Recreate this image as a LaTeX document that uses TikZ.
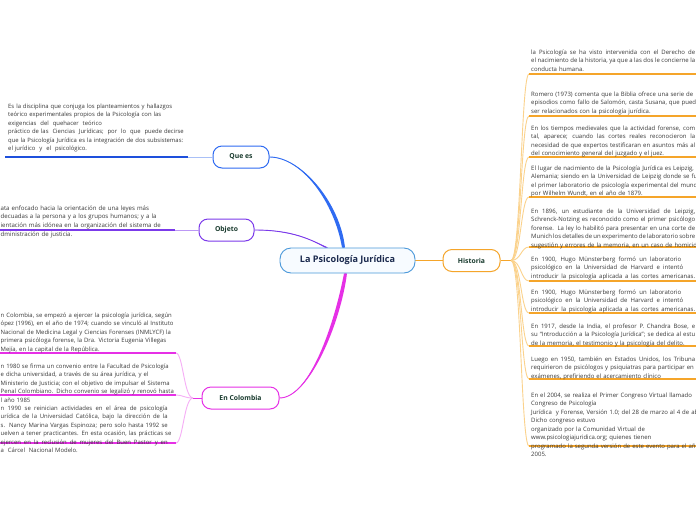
\documentclass[tikz,border=0pt]{standalone}
\usepackage{fontspec}
\setmainfont{Open Sans}
\newcommand\jl[2]{{\spaceskip=0pt\xspaceskip=0pt\makebox[#1][s]{#2}}}
\usetikzlibrary{backgrounds}
\definecolor{cbluedark}{HTML}{1E50DC}
\definecolor{cblue}{HTML}{2F6BF2}
\definecolor{cbluelight}{HTML}{A9C0F7}
\definecolor{cpurple}{HTML}{7B3AEA}
\definecolor{cpurplelight}{HTML}{BC98F5}
\definecolor{cmag}{HTML}{E630E6}
\definecolor{cmaglight}{HTML}{F6AEF6}
\definecolor{corange}{HTML}{F5A52A}
\definecolor{corangelight}{HTML}{FBD28C}
\definecolor{ccenter}{HTML}{4A98DA}
\definecolor{ccenterfill}{HTML}{F7FBFF}
\definecolor{ctext}{HTML}{383838}
\definecolor{cnode}{HTML}{17392C}
\definecolor{cnavy}{HTML}{1B2A4E}
\begin{document}
\begin{tikzpicture}[x=1pt,y=-1pt,
  txt/.style={text=ctext, inner sep=0pt, anchor=base west, align=left, text width=320pt},
  qtxt/.style={txt, font=\fontsize{5.9}{8.5}\selectfont},
  otxt/.style={txt, font=\fontsize{6.1}{8.5}\selectfont},
  ctxt/.style={txt, font=\fontsize{5.95}{8.5}\selectfont},
  rtxt/.style={txt, font=\fontsize{6.0}{8.5}\selectfont},
  branch/.style={draw=#1, line width=1pt, rounded corners=9pt, fill=white, font=\fontsize{6.8}{8}\selectfont\bfseries, text=cnode, minimum height=22pt, inner sep=0pt},
]
\useasboundingbox (0,0) rectangle (696,520);
\clip (0,0) rectangle (696,520);

% central and branch nodes
\node[draw=ccenter, line width=0.9pt, rounded corners=11pt, fill=ccenterfill, minimum width=135pt, minimum height=25pt, inner sep=0pt, font=\fontsize{9.1}{10}\selectfont\bfseries, text=cnavy] (ctr) at (347.5,260.5) {La Psicología Jurídica};
\node[branch=cblue, minimum width=56pt] (qe) at (241,157) {Que es};
\node[branch=cpurple, minimum width=55pt] (ob) at (226.5,230) {Objeto};
\node[branch=cmag, minimum width=77pt] (col) at (240.5,398) {En Colombia};
\node[branch=corange, minimum width=57pt] (hi) at (471.5,260.5) {Historia};

\begin{scope}[on background layer]
\fill[white] (0,0) rectangle (696,520);
% tapered main connectors
\fill[cblue] (qe.east) .. controls +(32,0) and +(-7.5,-45) .. ([xshift=-5.5pt]ctr.north)
  -- ([xshift=-2.5pt]ctr.north) .. controls +(-5,-45) and +(32,0) .. (qe.east) -- cycle;
\draw[cblue, line width=0.9pt] (qe.east) .. controls +(32,0) and +(-6,-45) .. ([xshift=-4pt]ctr.north);
\fill[cpurple] (ob.east) .. controls +(38,0) and +(-16,-9) .. ([xshift=-22.5pt]ctr.north)
  -- ([xshift=-19.5pt]ctr.north) .. controls +(-16,-7) and +(38,0) .. (ob.east) -- cycle;
\draw[cpurple, line width=0.9pt] (ob.east) .. controls +(38,0) and +(-16,-8) .. ([xshift=-21pt]ctr.north);
\fill[cmag] (col.east) .. controls +(30,0) and +(-9.5,50) .. ([xshift=-3.5pt]ctr.south)
  -- ([xshift=-0.5pt]ctr.south) .. controls +(-6.5,50) and +(30,0) .. (col.east) -- cycle;
\draw[cmag, line width=0.9pt] (col.east) .. controls +(30,0) and +(-8,50) .. ([xshift=-2pt]ctr.south);
\draw[corange, line width=1pt] (ctr.east) -- (hi.west);
\end{scope}

% Que es
\coordinate (qu0) at (5,157);
\coordinate (qu1) at (188,157);
\draw[cbluedark, line width=1.4pt] (qu0) -- (qu1);
\draw[cbluelight, line width=1pt] (qu1) -- (qe.west);
\node[qtxt] (tqe) at (8,108) {Es la disciplina que conjuga los planteamientos y hallazgos\\
teórico experimentales propios de la Psicología con las\\
exigencias\ \ del\ \ quehacer\ \ teórico\\
práctico de las\ \ Ciencias\ \ Jurídicas;\ \ por\ \ lo\ \ que\ \ puede decirse\\
que la Psicología Jurídica es la integración de dos subsistemas:\\
el jurídico\ \ y\ \ el\ \ psicológico.};

% Objeto
\coordinate (ou0) at (-2,230);
\coordinate (ou1) at (175,230);
\draw[cpurple, line width=1.2pt] (ou0) -- (ou1);
\draw[cpurplelight, line width=1pt] (ou1) -- (ob.west);
\node[otxt] (tob) at (0.5,210) {ata enfocado hacia la orientación de una leyes más\\
decuadas a la persona y a los grupos humanos; y a la\\
ientación más idónea en la organización del sistema de\\[1pt]
dministración de justicia.};

% En Colombia
\coordinate (ch) at (193,398);
\draw[cmag, line width=1pt] (ch) -- (col.west);
\foreach \n/\y in {1/353,2/395,3/443}{
  \coordinate (cu\n a) at (-2,\y);
  \coordinate (cu\n b) at (176,\y);
  \draw[cmaglight, line width=0.9pt] (cu\n b) .. controls +(7,0) and +(-9,0) .. (ch);
  \draw[cmag, line width=1.1pt] (cu\n a) -- (cu\n b);
}
\node[ctxt] (tc1) at (0.5,317) {n Colombia, se empezó a ejercer la psicología jurídica, según\\
ópez (1996), en el año de 1974; cuando se vinculó al Instituto\\
Nacional de Medicina Legal y Ciencias Forenses (INMLYCF) la\\
primera psicóloga forense, la Dra. Victoria Eugenia Villegas\\
Mejía, en la capital de la República.};
\node[ctxt] (tc2) at (0.5,368) {n 1980 se firma un convenio entre la Facultad de Psicología\\
e dicha universidad, a través de su área jurídica, y el\\
Ministerio de Justicia; con el objetivo de impulsar el Sistema\\
Penal Colombiano. Dicho convenio se legalizó y renovó hasta\\
l año 1985};
\node[ctxt] (tc3) at (0.5,410) {\jl{167pt}{n 1990 se reinician actividades en el área de psicología}\\
\jl{167pt}{urídica de la Universidad Católica, bajo la dirección de la}\\
\jl{167pt}{s. Nancy Marina Vargas Espinoza; pero solo hasta 1992 se}\\
uelven a tener practicantes. En esta ocasión, las prácticas se\\
\jl{167pt}{ejercen en la reclusión de mujeres del Buen Pastor y en}\\
a\ \ Cárcel\ \ Nacional Modelo.};

% Historia
\coordinate (hh) at (511,260.5);
\draw[corange, line width=1pt] (hi.east) -- (hh);
\foreach \n/\y in {1/74,2/116,3/157,4/197,5/247,6/281,7/313,8/346,9/379,10/446}{
  \coordinate (hu\n a) at (529,\y);
  \coordinate (hu\n b) at (700,\y);
  \draw[corangelight, line width=0.9pt] (hh) .. controls +(10,0) and +(-8,0) .. (hu\n a);
  \draw[corange, line width=1.1pt] (hu\n a) -- (hu\n b);
}
\node[rtxt] (th1) at (531,54) {\jl{164pt}{la Psicología se ha visto intervenida con el Derecho de}\\
\jl{164pt}{el nacimiento de la historia, ya que a las dos le concierne la}\\
conducta humana.};
\node[rtxt] (th2) at (531,96) {Romero (1973) comenta que la Biblia ofrece una serie de\\
episodios como fallo de Salomón, casta Susana, que pueden\\
ser relacionados con la psicología jurídica.};
\node[rtxt] (th3) at (531,130) {\jl{164pt}{En los tiempos medievales que la actividad forense, com}\\
\jl{164pt}{tal, aparece; cuando las cortes reales reconocieron la}\\
\jl{164pt}{necesidad de que expertos testificaran en asuntos más al}\\
del conocimiento general del juzgado y el juez.};
\node[rtxt] (th4) at (531,170) {El lugar de nacimiento de la Psicología Jurídica es Leipzig,\\
Alemania; siendo en la Universidad de Leipzig donde se fun\\
el primer laboratorio de psicología experimental del mundo\\
por Wilhelm Wundt, en el año de 1879.};
\node[rtxt] (th5) at (531,213) {\jl{164pt}{En 1896, un estudiante de la Universidad de Leipzig,}\\
\jl{164pt}{Schrenck-Notzing es reconocido como el primer psicólogo}\\
\jl{164pt}{forense. La ley lo habilitó para presentar en una corte de}\\
\jl{164pt}{Munich los detalles de un experimento de laboratorio sobre}\\
sugestión y errores de la memoria, en un caso de homicidio.};
\node[rtxt] (th6) at (531,261) {\jl{150pt}{En 1900, Hugo Münsterberg formó un laboratorio}\\
\jl{152pt}{psicológico en la Universidad de Harvard e intentó}\\
\jl{164pt}{introducir la psicología aplicada a las cortes americanas.}};
\node[rtxt] (th7) at (531,294) {\jl{150pt}{En 1900, Hugo Münsterberg formó un laboratorio}\\
\jl{152pt}{psicológico en la Universidad de Harvard e intentó}\\
\jl{164pt}{introducir la psicología aplicada a las cortes americanas.}};
\node[rtxt] (th8) at (531,328) {\jl{164pt}{En 1917, desde la India, el profesor P. Chandra Bose, e}\\
\jl{164pt}{su “Introducción a la Psicología Jurídica”; se dedica al estu}\\
de la memoria, el testimonio y la psicología del delito.};
\node[rtxt] (th9) at (531,361) {\jl{164pt}{Luego en 1950, también en Estados Unidos, los Tribuna}\\
requirieron de psicólogos y psiquiatras para participar en\\
exámenes, prefiriendo el acercamiento clínico};
\node[rtxt] (th10) at (531,397) {En el 2004, se realiza el Primer Congreso Virtual llamado\\
Congreso de Psicología\\
Jurídica\ \ y Forense, Versión 1.0; del 28 de marzo al 4 de abri\\
Dicho congreso estuvo\\
organizado por la Comunidad Virtual de\\
www.psicologiajuridica.org; quienes tienen\\
programado la segunda versión de este evento para el año\\
2005.};
\end{tikzpicture}
\end{document}
